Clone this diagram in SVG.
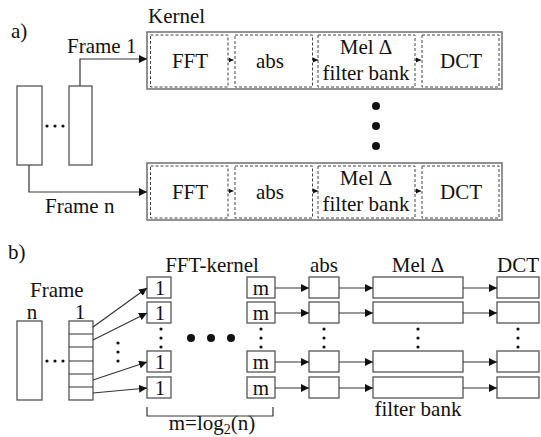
<svg xmlns="http://www.w3.org/2000/svg" width="541" height="437" viewBox="0 0 541 437" font-family="'Liberation Serif', 'DejaVu Serif', serif">
<defs>
<marker id="ah" viewBox="0 0 10 10" refX="10" refY="5" markerWidth="8" markerHeight="8" markerUnits="userSpaceOnUse" orient="auto"><path d="M0,0 L10,5 L0,10 z" fill="#111"/></marker>
<marker id="sm" viewBox="0 0 10 10" refX="10" refY="5" markerWidth="5" markerHeight="6" markerUnits="userSpaceOnUse" orient="auto"><path d="M0,0 L10,5 L0,10 z" fill="#111"/></marker>
</defs>
<style>
text{font-family:'Liberation Serif','DejaVu Serif',serif;font-size:21px;fill:#111}
.c{text-anchor:middle}
.box{fill:#fff;stroke:#555;stroke-width:1.3}
.outer{fill:#fff;stroke:#777;stroke-width:1.6}
.dash{fill:none;stroke:#444;stroke-width:1;stroke-dasharray:3,2}
.ln{fill:none;stroke:#333;stroke-width:1.2}
.arr{fill:none;stroke:#333;stroke-width:1.2;marker-end:url(#ah)}
.sarr{fill:none;stroke:#333;stroke-width:1;marker-end:url(#sm)}
.dot{fill:#111}
</style>
<rect width="541" height="437" fill="#fff"/>
<text x="11" y="38" font-size="22">a)</text>
<text x="148" y="23">Kernel</text>
<g id="a-frame-n"><rect class="box" x="17" y="86" width="25" height="79"/></g>
<g id="a-frame-1"><rect class="box" x="69" y="86" width="23" height="79"/></g>
<g id="a-frame-dots"><circle class="dot" cx="47" cy="126" r="1.6"/><circle class="dot" cx="55" cy="126" r="1.6"/><circle class="dot" cx="63" cy="126" r="1.6"/></g>
<g id="kernel-1">
<rect class="outer" x="147" y="32" width="355" height="57"/>
<rect class="dash" x="150.5" y="35" width="77.5" height="52"/>
<rect class="dash" x="235" y="35" width="77.5" height="52"/>
<rect class="dash" x="318" y="35" width="97" height="52"/>
<rect class="dash" x="422" y="35" width="77" height="52"/>
<text class="c" x="190" y="68">FFT</text>
<text class="c" x="270" y="68">abs</text>
<text class="c" x="366" y="54">Mel Δ</text>
<text class="c" x="366" y="80">filter bank</text>
<text class="c" x="461" y="68">DCT</text>
</g>
<g id="kernel-n">
<rect class="outer" x="147" y="163" width="355" height="57"/>
<rect class="dash" x="150.5" y="166" width="77.5" height="52"/>
<rect class="dash" x="235" y="166" width="77.5" height="52"/>
<rect class="dash" x="318" y="166" width="97" height="52"/>
<rect class="dash" x="422" y="166" width="77" height="52"/>
<text class="c" x="190" y="199">FFT</text>
<text class="c" x="270" y="199">abs</text>
<text class="c" x="366" y="185">Mel Δ</text>
<text class="c" x="366" y="211">filter bank</text>
<text class="c" x="461" y="199">DCT</text>
</g>
<g id="a-vdots"><circle class="dot" cx="376" cy="106" r="4"/><circle class="dot" cx="376" cy="126" r="4"/><circle class="dot" cx="376" cy="146" r="4"/></g>
<g id="connectors-a">
<path class="arr" d="M80,86 V59 H147"/>
<path class="arr" d="M29,165 V192 H147"/>
<path class="sarr" d="M228,60 H233.5"/>
<path class="sarr" d="M312.5,60 H318"/>
<path class="sarr" d="M415,60 H421"/>
<path class="sarr" d="M228,191 H233.5"/>
<path class="sarr" d="M312.5,191 H318"/>
<path class="sarr" d="M415,191 H421"/>
</g>
<text x="67" y="53">Frame 1</text>
<text x="45" y="213">Frame n</text>
<text x="8" y="259" font-size="22">b)</text>
<text x="30" y="297" font-size="20">Frame</text>
<text class="c" x="32" y="319" font-size="20">n</text>
<text class="c" x="80" y="319" font-size="20">1</text>
<text class="c" x="212" y="272">FFT-kernel</text>
<text class="c" x="324" y="272">abs</text>
<text class="c" x="418" y="272">Mel Δ</text>
<text class="c" x="518" y="272">DCT</text>
<text class="c" x="418" y="416">filter bank</text>
<text class="c" x="212" y="430">m=log<tspan font-size="14" dy="4">2</tspan><tspan dy="-4">(n)</tspan></text>
<g id="b-frame-n"><rect class="box" x="17" y="321" width="25" height="79"/></g>
<g id="b-frame-1">
<rect class="box" x="69" y="321" width="24" height="79"/>
<path class="ln" d="M69,334 H93 M69,347 H93 M69,361 H93 M69,374 H93 M69,387 H93"/>
</g>
<g id="b-frame-dots"><circle class="dot" cx="47" cy="361" r="1.6"/><circle class="dot" cx="55" cy="361" r="1.6"/><circle class="dot" cx="63" cy="361" r="1.6"/></g>
<g id="fft-1">
<rect class="box" x="147" y="277" width="24" height="21"/>
<rect class="box" x="147" y="302" width="24" height="21"/>
<rect class="box" x="147" y="351" width="24" height="21"/>
<rect class="box" x="147" y="377" width="24" height="21"/>
<text class="c" x="160" y="295">1</text>
<text class="c" x="160" y="320">1</text>
<text class="c" x="160" y="369">1</text>
<text class="c" x="160" y="395">1</text>
</g>
<g id="fft-m">
<rect class="box" x="247" y="277" width="28" height="21"/>
<rect class="box" x="247" y="302" width="28" height="21"/>
<rect class="box" x="247" y="351" width="28" height="21"/>
<rect class="box" x="247" y="377" width="28" height="21"/>
<text class="c" x="261" y="295">m</text>
<text class="c" x="261" y="320">m</text>
<text class="c" x="261" y="369">m</text>
<text class="c" x="261" y="395">m</text>
</g>
<g id="abs-b">
<rect class="box" x="309" y="277" width="30" height="21"/>
<rect class="box" x="309" y="302" width="30" height="21"/>
<rect class="box" x="309" y="351" width="30" height="21"/>
<rect class="box" x="309" y="377" width="30" height="21"/>
</g>
<g id="mel-b">
<rect class="box" x="373" y="277" width="90" height="21"/>
<rect class="box" x="373" y="302" width="90" height="21"/>
<rect class="box" x="373" y="351" width="90" height="21"/>
<rect class="box" x="373" y="377" width="90" height="21"/>
</g>
<g id="dct-b">
<rect class="box" x="497" y="277" width="42" height="21"/>
<rect class="box" x="497" y="302" width="42" height="21"/>
<rect class="box" x="497" y="351" width="42" height="21"/>
<rect class="box" x="497" y="377" width="42" height="21"/>
</g>
<g id="b-dots">
<circle class="dot" cx="118" cy="343" r="1.6"/><circle class="dot" cx="118" cy="352" r="1.6"/><circle class="dot" cx="118" cy="361" r="1.6"/>
<circle class="dot" cx="161" cy="329" r="1.6"/><circle class="dot" cx="161" cy="338" r="1.6"/><circle class="dot" cx="161" cy="347" r="1.6"/>
<circle class="dot" cx="261" cy="329" r="1.6"/><circle class="dot" cx="261" cy="338" r="1.6"/><circle class="dot" cx="261" cy="347" r="1.6"/>
<circle class="dot" cx="324" cy="329" r="1.6"/><circle class="dot" cx="324" cy="338" r="1.6"/><circle class="dot" cx="324" cy="347" r="1.6"/>
<circle class="dot" cx="418" cy="329" r="1.6"/><circle class="dot" cx="418" cy="338" r="1.6"/><circle class="dot" cx="418" cy="347" r="1.6"/>
<circle class="dot" cx="518" cy="329" r="1.6"/><circle class="dot" cx="518" cy="338" r="1.6"/><circle class="dot" cx="518" cy="347" r="1.6"/>
<circle class="dot" cx="191" cy="338" r="4"/><circle class="dot" cx="211" cy="338" r="4"/><circle class="dot" cx="231" cy="338" r="4"/>
</g>
<g id="connectors-b">
<path class="arr" d="M93,327 L147,288"/>
<path class="arr" d="M93,340 L147,313"/>
<path class="arr" d="M93,380 L147,362"/>
<path class="arr" d="M93,393 L147,388"/>
<path class="arr" d="M275,288 H309"/>
<path class="arr" d="M275,313 H309"/>
<path class="arr" d="M275,362 H309"/>
<path class="arr" d="M275,388 H309"/>
<path class="arr" d="M339,288 H373"/>
<path class="arr" d="M339,313 H373"/>
<path class="arr" d="M339,362 H373"/>
<path class="arr" d="M339,388 H373"/>
<path class="arr" d="M463,288 H497"/>
<path class="arr" d="M463,313 H497"/>
<path class="arr" d="M463,362 H497"/>
<path class="arr" d="M463,388 H497"/>
<path class="ln" d="M147,407 V416 H273 V407"/>
</g>
</svg>
